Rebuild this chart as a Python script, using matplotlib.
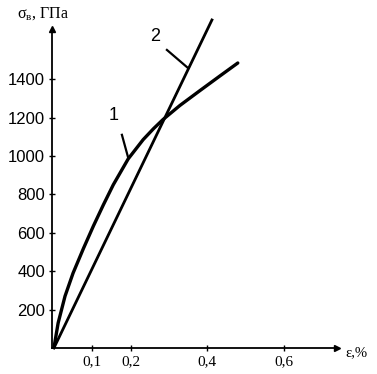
import matplotlib
matplotlib.use("Agg")
import matplotlib.pyplot as plt

plt.rcParams['mathtext.fontset'] = 'custom'
plt.rcParams['mathtext.rm'] = 'Liberation Serif'
plt.rcParams['mathtext.it'] = 'Liberation Serif'

# curve 1 (strain, %; stress)
eps_1 = [0, 0.011, 0.029, 0.050, 0.077, 0.103, 0.129, 0.155, 0.194, 0.233,
         0.260, 0.285, 0.329, 0.381, 0.433, 0.480]
sig_1 = [0, 130, 270, 390, 518, 635, 745, 850, 985, 1085,
         1142, 1190, 1263, 1340, 1416, 1484]

# curve 2 (straight line)
eps_2 = [0, 0.4125]
sig_2 = [0, 1708]

x_ticks = [0.1, 0.2, 0.4, 0.6]
x_tick_labels = ['0,1', '0,2', '0,4', '0,6']
y_ticks = [200, 400, 600, 800, 1000, 1200, 1400]

# curve labels with leader lines
label_1 = (0.157, 1213)
leader_1 = ([0.1775, 0.194], [1110, 990])
label_2 = (0.264, 1620)
leader_2 = ([0.295, 0.35], [1552, 1458])

fig = plt.figure(figsize=(3.77, 3.74), dpi=100)
ax = fig.add_axes([52 / 377, 26 / 374, 285 / 377, 319 / 374])
ax.set_xlim(-0.005, 0.739)
ax.set_ylim(0, 1661)

ax.plot(eps_1, sig_1, color='black', lw=2.4, solid_capstyle='round',
        solid_joinstyle='round')
ax.plot(eps_2, sig_2, color='black', lw=2.0, clip_on=False)

ax.plot(*leader_1, color='black', lw=1.6)
ax.plot(*leader_2, color='black', lw=1.6)
ax.text(*label_1, '1', fontsize=13, family='Liberation Sans', ha='center', va='center')
ax.text(*label_2, '2', fontsize=13, family='Liberation Sans', ha='center', va='center')

# axes with arrows
for s in ['top', 'right']:
    ax.spines[s].set_visible(False)
ax.spines['left'].set_linewidth(1.3)
ax.spines['bottom'].set_linewidth(1.3)
ax.plot(1, 0, '>k', ms=5, transform=ax.transAxes, clip_on=False)
ax.plot(0, 1, '^k', ms=5, transform=ax.transAxes, clip_on=False)

ax.set_xticks(x_ticks)
ax.set_xticklabels(x_tick_labels, family='Liberation Serif', fontsize=11)
ax.set_yticks(y_ticks)
ax.set_yticklabels([str(v) for v in y_ticks], family='Liberation Sans', fontsize=12)
ax.tick_params(direction='inout', length=4, width=1, pad=3)

fig.text(17 / 377, 1 - 14 / 374, r'$\sigma_\mathrm{в}$, ГПа', fontsize=11.5,
         family='Liberation Serif', ha='left', va='center')
fig.text(345 / 377, 1 - 353 / 374, 'ε,%', fontsize=10.5,
         family='Liberation Serif', ha='left', va='center')

fig.savefig('out.png', dpi=100)
